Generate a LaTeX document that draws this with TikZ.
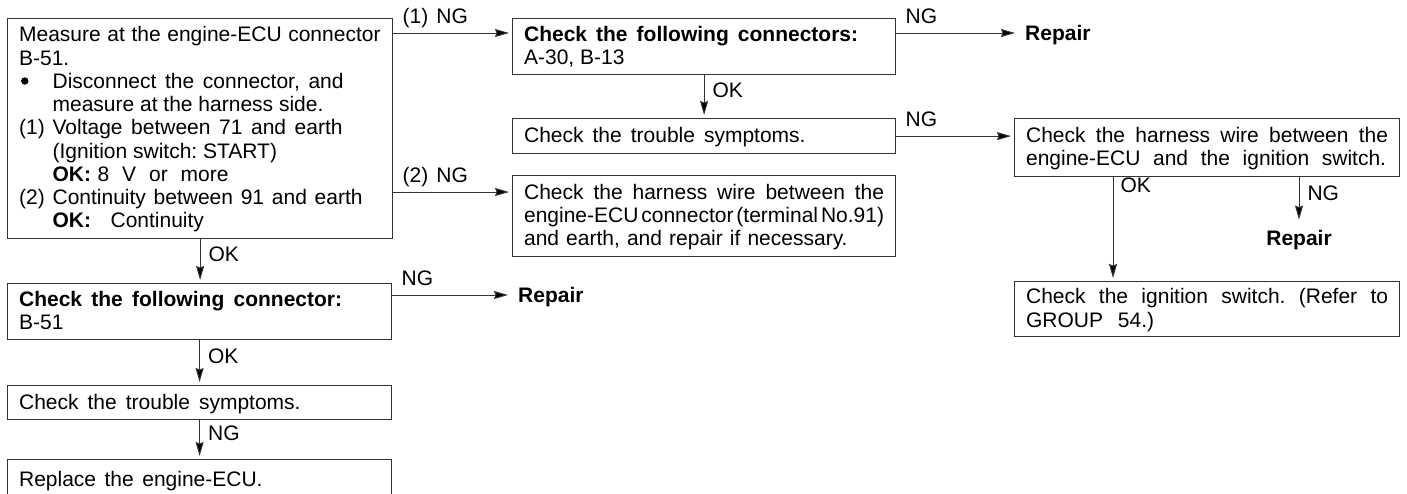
\documentclass[tikz,border=0pt]{standalone}
\usepackage{fontspec}
\setmainfont{Liberation Sans}
\usetikzlibrary{arrows.meta}
\frenchspacing
\newcommand\ls{\rule[-5pt]{0pt}{23pt}}
\newcommand\jf[2]{\makebox[#1][s]{\spaceskip=0.278em plus 1fil minus 0.2em\relax\xspaceskip=0.278em plus 1fil minus 0.2em\relax #2}}
\newcommand\myfont{\fontsize{21pt}{23.25pt}\selectfont\frenchspacing}
\newcommand\ind{\hspace*{33.5pt}}
\newcommand\lead[1]{\makebox[33.5pt][l]{#1}}
\tikzset{
  box/.style={draw=black!80, line width=1.2pt, rectangle, anchor=north west,
    inner xsep=11.5pt, inner ysep=0pt, align=flush left, font=\myfont},
  arr/.style={draw=black!80, line width=1pt, -{Stealth[length=14pt,width=8pt,inset=1.5pt,fill=black]}, shorten >=3pt},
  lbl/.style={anchor=base west, inner sep=0pt, xshift=9pt, yshift=10pt, font=\myfont},
  lblv/.style={anchor=base west, inner sep=0pt, xshift=8pt, yshift=-1pt, font=\myfont},
  lblt/.style={anchor=base west, inner sep=0pt, xshift=7pt, yshift=-15pt, font=\myfont},
  rep/.style={inner xsep=7pt, inner ysep=7pt, font=\myfont\bfseries}
}
\begin{document}
\begin{tikzpicture}[x=1pt, y=-1pt]
\useasboundingbox (0,0) rectangle (1407,493);

% left column
\node[box, minimum width=385pt, minimum height=219.5pt, text width=362pt] (A) at (7,18) {%
\ls\jf{361.5pt}{Measure at the engine-ECU connector}\\
\ls B-51.\\
\ls\ind\jf{291pt}{Disconnect the connector, and}\\
\ls\ind measure at the harness side.\\
\ls\lead{(1)}\jf{290pt}{Voltage between 71 and earth}\\
\ls\ind (Ignition switch: START)\\
\ls\ind\textbf{OK:}\hspace{6.5pt}\jf{131pt}{8 V or more}\\
\ls\lead{(2)}\jf{310pt}{Continuity between 91 and earth}\\
\ls\ind\textbf{OK:}\hspace{19.5pt}Continuity};
\fill[black] (24.8,81) circle (3.7pt);

\node[box, minimum width=384pt, minimum height=56pt, text width=361pt] (G) at (7,283) {%
\ls\jf{323pt}{\textbf{Check the following connector:}}\\
\ls B-51};

\node[box, minimum width=384pt, minimum height=34pt, text width=361pt] (H) at (7,385) {%
\ls\jf{281.5pt}{Check the trouble symptoms.}};

\node[box, minimum width=384pt, minimum height=40pt, text width=361pt] (I) at (7,459) {%
\ls\jf{243.5pt}{Replace the engine-ECU.}};

% middle column
\node[box, minimum width=383pt, minimum height=56pt, text width=360pt] (B) at (512,18) {%
\ls\jf{334pt}{\textbf{Check the following connectors:}}\\
\ls A-30, B-13};

\node[box, minimum width=383pt, minimum height=35pt, text width=360pt] (C) at (512,118) {%
\ls\jf{281.5pt}{Check the trouble symptoms.}};

\node[box, minimum width=383pt, minimum height=81pt, text width=360pt] (D) at (512,175) {%
\ls\jf{360pt}{Check the harness wire between the}\\
\ls\jf{360pt}{engine-ECU connector (terminal No.91)}\\
\ls\jf{323.5pt}{and earth, and repair if necessary.}};

% right column
\node[box, minimum width=385pt, minimum height=58pt, text width=362pt] (E) at (1014,118) {%
\ls\jf{362pt}{Check the harness wire between the}\\
\ls\jf{360pt}{engine-ECU and the ignition switch.}};

\node[box, minimum width=385pt, minimum height=55pt, text width=362pt] (F) at (1014,281) {%
\ls\jf{362pt}{Check the ignition switch. (Refer to}\\
\ls\jf{128pt}{GROUP 54.)}};

% repair nodes
\node[rep, anchor=base west] (R1) at (1018,40) {Repair};
\node[rep, anchor=base west] (R2) at (511,302) {Repair};
\node[rep, anchor=base] (R3) at (1299,245) {Repair};

% connectors
\coordinate (a1) at ([yshift=-15pt]A.north east);
\draw[arr] (a1) -- (a1 -| B.west) node[lbl, pos=0] {(1)\hspace{8pt}NG};
\coordinate (dIn) at ([yshift=-17pt]D.north west);
\draw[arr] (dIn -| A.east) -- (dIn) node[lbl, pos=0] {(2)\hspace{8pt}NG};

\coordinate (b1) at ([yshift=-15pt]B.north east);
\draw[arr] (b1) -- (b1 -| R1.west) node[lbl, pos=0] {NG};
\draw[arr] (B.south) -- (C.north) node[lblv, midway] {OK};
\draw[arr] (C.east) -- (C.east -| E.west) node[lbl, pos=0] {NG};

\coordinate (e1) at ([xshift=99pt]E.south west);
\draw[arr] (e1) -- (e1 |- F.north) node[lblt, pos=0] {OK};
\draw[arr] (R3.north |- E.south) -- (R3.north) node[lblv, midway] {NG};

\draw[arr] (A.south) -- (A.south |- G.north) node[lblv, midway] {OK};
\coordinate (g1) at ([yshift=-12pt]G.north east);
\draw[arr] (g1) -- (g1 -| R2.west) node[lbl, pos=0] {NG};
\draw[arr] (G.south) -- (H.north) node[lblv, midway] {OK};
\draw[arr] (H.south) -- (I.north) node[lblv, midway] {NG};
\end{tikzpicture}
\end{document}
